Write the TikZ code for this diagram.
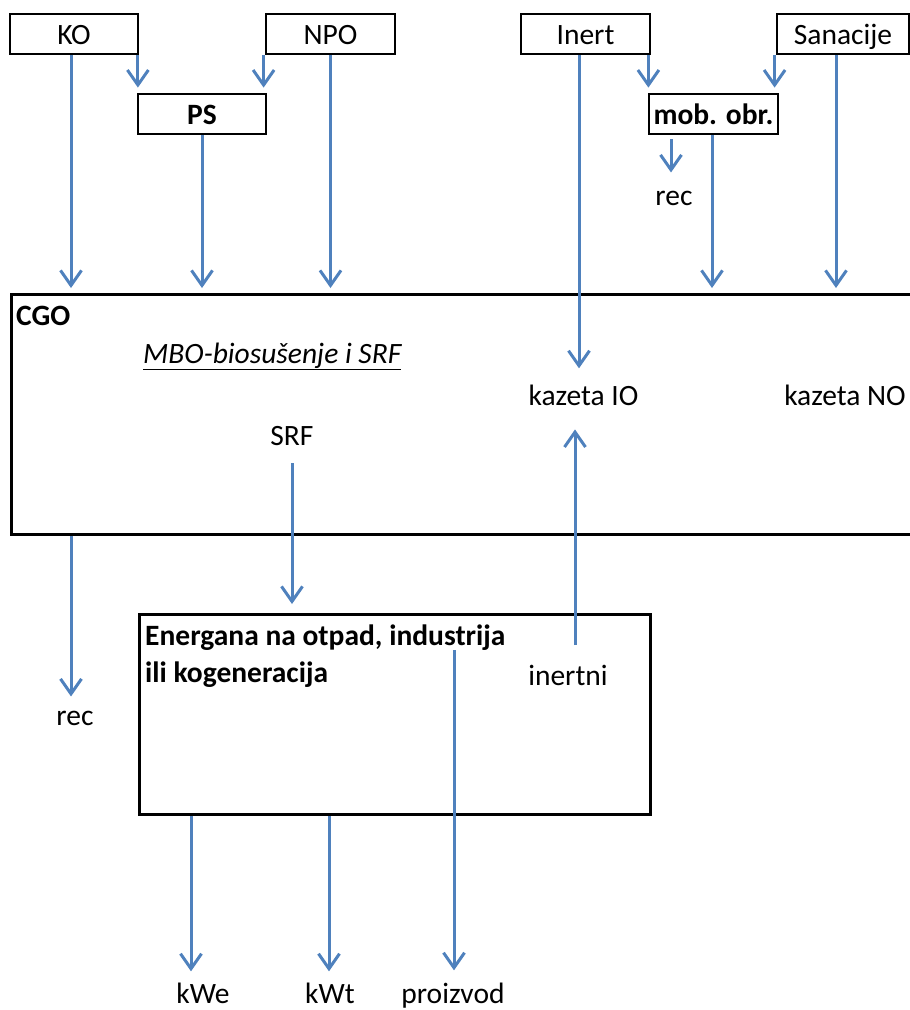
\documentclass[tikz,border=0pt]{standalone}
\usepackage{fontspec}
\setmainfont{Carlito}
\usetikzlibrary{arrows.meta}
\definecolor{flowblue}{RGB}{79,129,189}

\begin{document}
\fontsize{29.5}{36}\selectfont
\begin{tikzpicture}[x=1pt,y=-1pt,>={Straight Barb[length=15pt,width=21pt]},
    box/.style={draw,line width=2.8pt,minimum height=40pt,inner sep=0pt,text height=21pt,text depth=0pt},
    bigbox/.style={draw,line width=2.8pt,inner sep=0pt,anchor=north west},
    lbl/.style={inner sep=0pt,anchor=base},
    flow/.style={->,draw=flowblue,line width=3pt,shorten >=5pt}]

            \useasboundingbox (0,0) rectangle (910,1010);
            \clip (0,0) rectangle (910,1010);

            % input boxes
            \node[box,minimum width=128pt] (KO) at (74,34) {KO};
            \node[box,minimum width=129pt] (NPO) at (330.5,34) {NPO};
            \node[box,minimum width=128pt,font=\bfseries] (PS) at (202,114) {PS};
            \node[box,minimum width=129pt] (Inert) at (585.5,34) {Inert};
            \node[box,minimum width=132pt] (Sanacije) at (843,34) {Sanacije};
            \node[box,minimum width=129pt,font=\bfseries] (mob) at (713.5,114) {mob. obr.};

            % big boxes
            \node[bigbox,minimum width=915pt,minimum height=240pt] (CGO) at (10,293) {};
            \node[bigbox,minimum width=511pt,minimum height=200pt] (ener) at (138,613) {};

            % labels
            \node[lbl,anchor=base west,font=\bfseries] (cgoT) at (16,325) {CGO};
            \node[lbl,anchor=base west] (mbo) at (143,363) {\textit{\underline{MBO-biosušenje i SRF}}};
            \node[lbl] (kazIO) at (583.5,405) {kazeta IO};
            \node[lbl] (kazNO) at (845,405) {kazeta NO};
            \node[lbl] (srf) at (292,445) {SRF};
            \node[lbl,anchor=base west,font=\bfseries] (enerA) at (145,645) {Energana na otpad, industrija};
            \node[lbl,anchor=base west,font=\bfseries] (enerB) at (145,682) {ili kogeneracija};
            \node[lbl] (inertni) at (568,685) {inertni};
            \node[lbl] (recA) at (674,205) {rec};
            \node[lbl] (recB) at (75,725) {rec};
            \node[lbl] (kWe) at (203,1003) {kWe};
            \node[lbl] (kWt) at (330,1003) {kWt};
            \node[lbl] (proizvod) at (453,1003) {proizvod};

            % flows
            \draw[flow] ([xshift=-3pt]KO.south) to ([xshift=-3pt]KO.south |- CGO.north);
            \draw[flow] ([xshift=-1.5pt]KO.south east) to ([xshift=-1.5pt]KO.south east |- PS.north);
            \draw[flow] ([xshift=-1pt]NPO.south west) to ([xshift=-1pt]NPO.south west |- PS.north);
            \draw[flow] (PS.south) to (PS.south |- CGO.north);
            \draw[flow] (NPO.south) to (NPO.south |- CGO.north);
            \draw[flow,shorten >=16pt] ([xshift=-4.5pt]kazIO.north |- Inert.south) to ([xshift=-4.5pt]kazIO.north);
            \draw[flow] ([xshift=-3pt]Inert.south east) to ([xshift=-3pt]Inert.south east |- mob.north);
            \draw[flow] ([xshift=-1pt]Sanacije.south west) to ([xshift=-1pt]Sanacije.south west |- mob.north);
            \draw[flow,shorten <=4pt,shorten >=18pt] ([xshift=-3pt]recA.north |- mob.south) to ([xshift=-3pt]recA.north);
            \draw[flow] ([xshift=-1.5pt]mob.south) to ([xshift=-1.5pt]mob.south |- CGO.north);
            \draw[flow] ([xshift=-7pt]Sanacije.south) to ([xshift=-7pt]Sanacije.south |- CGO.north);
            \draw[flow,shorten >=14pt] ([xshift=-4pt]recB.north |- CGO.south) to ([xshift=-4pt]recB.north);
            \draw[flow,shorten <=18pt,shorten >=9pt] (srf.south) to (srf.south |- ener.north);
            \draw[flow,shorten >=24pt] ([xshift=7pt]inertni.north |- enerA.base) to ([xshift=7pt]inertni.north |- kazIO.south);
            \draw[flow,shorten >=12pt] ([xshift=1pt]proizvod.north |- enerA.south) to ([xshift=1pt]proizvod.north);
            \draw[flow,shorten >=11pt] ([xshift=-12pt]kWe.north |- ener.south) to ([xshift=-12pt]kWe.north);
            \draw[flow,shorten >=11pt] ([xshift=-1pt]kWt.north |- ener.south) to ([xshift=-1pt]kWt.north);

            ;
        \end{tikzpicture}
\end{document}
